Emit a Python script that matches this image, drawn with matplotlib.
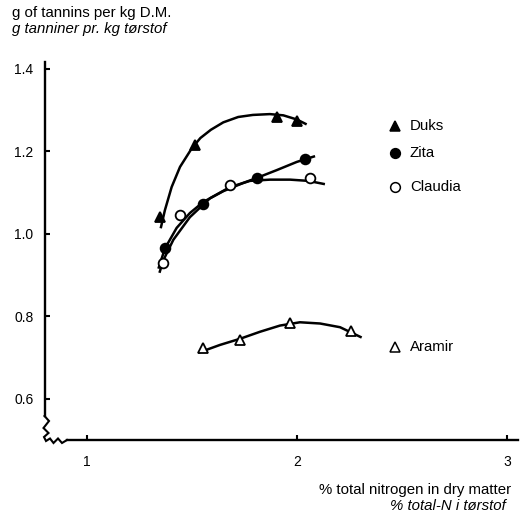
import numpy as np
import matplotlib
matplotlib.use("Agg")
import matplotlib.pyplot as plt
from matplotlib.lines import Line2D

plt.rcParams['font.family'] = ['Liberation Sans', 'DejaVu Sans']

# ---- data ----
series_names = ["Duks", "Zita", "Claudia", "Aramir"]
duks_x = [1.348, 1.514, 1.903, 1.998]
duks_y = [1.041, 1.215, 1.283, 1.273]
zita_x = [1.371, 1.554, 1.808, 2.038]
zita_y = [0.964, 1.073, 1.134, 1.182]
claudia_x = [1.364, 1.443, 1.681, 2.063]
claudia_y = [0.929, 1.045, 1.118, 1.134]
aramir_x = [1.554, 1.729, 1.967, 2.256]
aramir_y = [0.722, 0.742, 0.784, 0.764]

# trend curves as drawn in the original
duks_fit_x = [1.351, 1.371, 1.403, 1.443, 1.499, 1.540, 1.590, 1.649, 1.720, 1.790,
              1.871, 1.935, 1.999, 2.046]
duks_fit_y = [1.013, 1.057, 1.113, 1.162, 1.207, 1.232, 1.252, 1.270, 1.283, 1.288,
              1.290, 1.287, 1.277, 1.265]
zita_fit_x = [1.340, 1.371, 1.427, 1.490, 1.554, 1.649, 1.744, 1.808, 1.903,
              1.999, 2.086]
zita_fit_y = [0.915, 0.964, 1.014, 1.050, 1.077, 1.103, 1.123, 1.135, 1.154,
              1.174, 1.188]
claudia_fit_x = [1.345, 1.363, 1.411, 1.490, 1.586, 1.681, 1.776, 1.871, 1.967,
                 2.054, 2.133]
claudia_fit_y = [0.905, 0.935, 0.985, 1.040, 1.086, 1.113, 1.128, 1.131, 1.131,
                 1.128, 1.120]
aramir_fit_x = [1.530, 1.633, 1.729, 1.824, 1.919, 2.014, 2.110, 2.205, 2.308]
aramir_fit_y = [0.711, 0.730, 0.745, 0.762, 0.777, 0.785, 0.782, 0.773, 0.748]

x_ticks = [1, 2, 3]
x_tick_labels = ["1", "2", "3"]
y_ticks = [0.6, 0.8, 1.0, 1.2, 1.4]
y_tick_labels = ["0.6", "0.8", "1.0", "1.2", "1.4"]

W, H = 522, 519
fig = plt.figure(figsize=(W / 100, H / 100), dpi=100)

def fx(px):
    return px / W

def fy(py):
    return 1 - py / H

x_left, x_right = 0.7976, 3.0524
y_bot, y_top = 0.4994, 1.4164
ax = fig.add_axes([fx(44.5), fy(440), fx(518) - fx(44.5), fy(62) - fy(440)])
ax.set_xlim(x_left, x_right)
ax.set_ylim(y_bot, y_top)

xs_all = [duks_x, zita_x, claudia_x, aramir_x]
ys_all = [duks_y, zita_y, claudia_y, aramir_y]
fit_x_all = [duks_fit_x, zita_fit_x, claudia_fit_x, aramir_fit_x]
fit_y_all = [duks_fit_y, zita_fit_y, claudia_fit_y, aramir_fit_y]
markers = ["^", "o", "o", "^"]
faces = ["black", "black", "white", "white"]
msizes = [7.5, 7, 7, 7.5]

for i in range(4):
    ax.plot(fit_x_all[i], fit_y_all[i], color="black", lw=1.8, zorder=2,
            solid_capstyle="butt", solid_joinstyle="round")
    ax.plot(xs_all[i], ys_all[i], linestyle="none", marker=markers[i],
            markersize=msizes[i], markerfacecolor=faces[i],
            markeredgecolor="black", markeredgewidth=1.3, zorder=3)

# spines with broken-axis zigzags
for s in ["top", "right"]:
    ax.spines[s].set_visible(False)
ax.spines["left"].set_linewidth(1.7)
ax.spines["bottom"].set_linewidth(1.7)
ax.spines["left"].set_bounds(1 + (233.5 - 416) / 412.5, y_top)
ax.spines["bottom"].set_bounds(1 + (67 - 87) / 210, x_right)

zig = [(44.5, 416), (49, 421), (43.5, 428), (48.5, 433), (44, 437), (46, 441),
       (50, 438.5), (53.5, 443), (58, 438.5), (62, 443), (67, 440)]
fig.add_artist(Line2D([fx(p[0]) for p in zig], [fy(p[1]) for p in zig],
                      transform=fig.transFigure, color="black", lw=1.5,
                      solid_joinstyle="miter"))

ax.set_xticks(x_ticks)
ax.set_xticklabels(x_tick_labels)
ax.set_yticks(y_ticks)
ax.set_yticklabels(y_tick_labels)
ax.tick_params(axis="both", direction="in", length=3.5, width=1.5, labelsize=10)
ax.tick_params(axis="y", pad=8)
ax.tick_params(axis="x", pad=11)

# axis titles
fig.text(fx(12), fy(17), "g of tannins per kg D.M.", fontsize=10.8, ha="left", va="baseline")
fig.text(fx(12), fy(33), "g tanniner pr. kg tørstof", fontsize=10.8, style="italic",
         ha="left", va="baseline")
fig.text(fx(511), fy(494), "% total nitrogen in dry matter", fontsize=10.8, ha="right",
         va="baseline")
fig.text(fx(506), fy(510), "% total-N i tørstof", fontsize=10.8, style="italic",
         ha="right", va="baseline")

# legend
leg_py = [126, 153, 187, 347]
for i in range(4):
    fig.add_artist(Line2D([fx(395)], [fy(leg_py[i])], transform=fig.transFigure,
                          linestyle="none", marker=markers[i], markersize=msizes[i],
                          markerfacecolor=faces[i], markeredgecolor="black",
                          markeredgewidth=1.1))
    fig.text(fx(410), fy(leg_py[i]), series_names[i], fontsize=10.8, ha="left",
             va="center")

fig.savefig("out.png", dpi=100)
